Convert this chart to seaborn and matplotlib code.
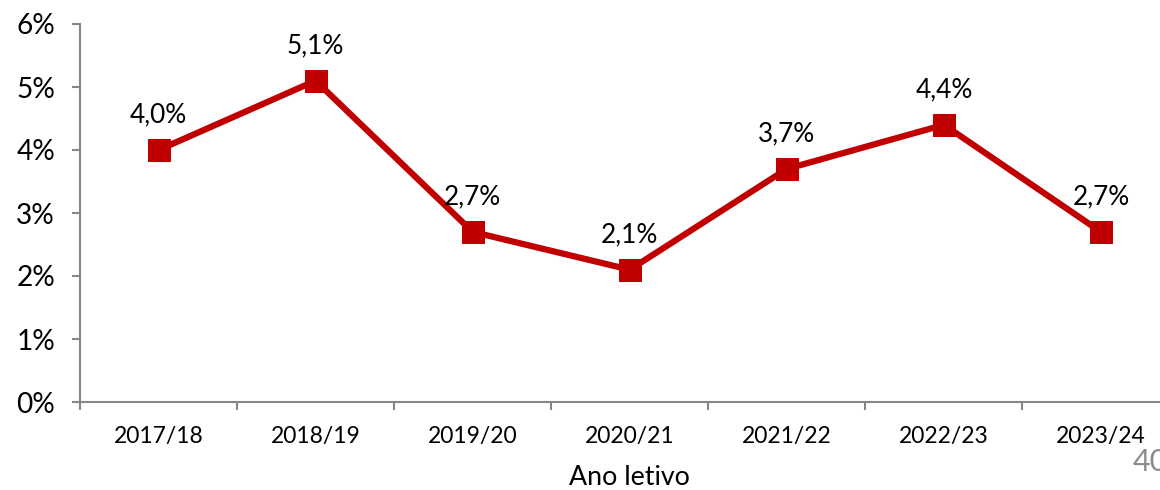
import matplotlib
matplotlib.use("Agg")
import matplotlib.pyplot as plt
import seaborn as sns
import pandas as pd
from matplotlib.ticker import FixedLocator, FuncFormatter

years = ["2017/18", "2018/19", "2019/20", "2020/21", "2021/22", "2022/23", "2023/24"]
rates = [4.0, 5.1, 2.7, 2.1, 3.7, 4.4, 2.7]
y_ticks = [0, 1, 2, 3, 4, 5, 6]
x_title = "Ano letivo"
page_no = "40"

sns.set_theme(style="white")
plt.rcParams["font.family"] = ["Lato", "DejaVu Sans"]

RED = "#C00000"
GRAY = "#878787"
FS = 17.5

df = pd.DataFrame({"ano": years, "taxa": rates})

fig = plt.figure(figsize=(11.6, 4.9), dpi=100)
ax = fig.add_axes([80 / 1160, 88 / 490, (1179.5 - 80) / 1160, (402 - 24) / 490])

sns.lineplot(data=df, x="ano", y="taxa", ax=ax, color=RED, linewidth=4.5,
             marker="s", markersize=16, markeredgecolor=RED, markerfacecolor=RED,
             sort=False, clip_on=False)

ax.set_xlim(-0.5, len(years) - 0.5)
ax.set_ylim(0, 6)
ax.yaxis.set_major_locator(FixedLocator(y_ticks))
ax.yaxis.set_major_formatter(FuncFormatter(lambda v, p: f"{v:.0f}%"))

ax.set_xticks(range(len(years)))
ax.set_xticklabels(years)
ax.set_xticks([i - 0.5 for i in range(len(years) + 1)], minor=True)
ax.tick_params(axis="x", which="major", length=0, pad=17, labelsize=FS * 0.94, colors="black")
ax.tick_params(axis="x", which="minor", length=6, width=1.5, color=GRAY, direction="out", bottom=True)
ax.tick_params(axis="y", which="major", length=6, width=1.5, color=GRAY, direction="out",
               pad=12, labelsize=FS * 1.15, left=True)
for lbl in ax.get_yticklabels() + ax.get_xticklabels():
    lbl.set_color("black")

for s in ["top", "right"]:
    ax.spines[s].set_visible(False)
for s in ["left", "bottom"]:
    ax.spines[s].set_color(GRAY)
    ax.spines[s].set_linewidth(1.5)

ax.set_ylabel("")
ax.set_xlabel(x_title, fontsize=FS * 1.1, color="black", labelpad=13)

for i, v in enumerate(rates):
    ax.annotate(f"{v:.1f}%".replace(".", ","), (i, v), xytext=(0, 25),
                textcoords="offset points", ha="center", va="center",
                fontsize=FS * 1.08, color="black")

fig.text(1133 / 1160, 1 - 462 / 490, page_no, fontsize=22, color="#8C8C8C",
         ha="left", va="center")

fig.savefig("out.png", dpi=100)
